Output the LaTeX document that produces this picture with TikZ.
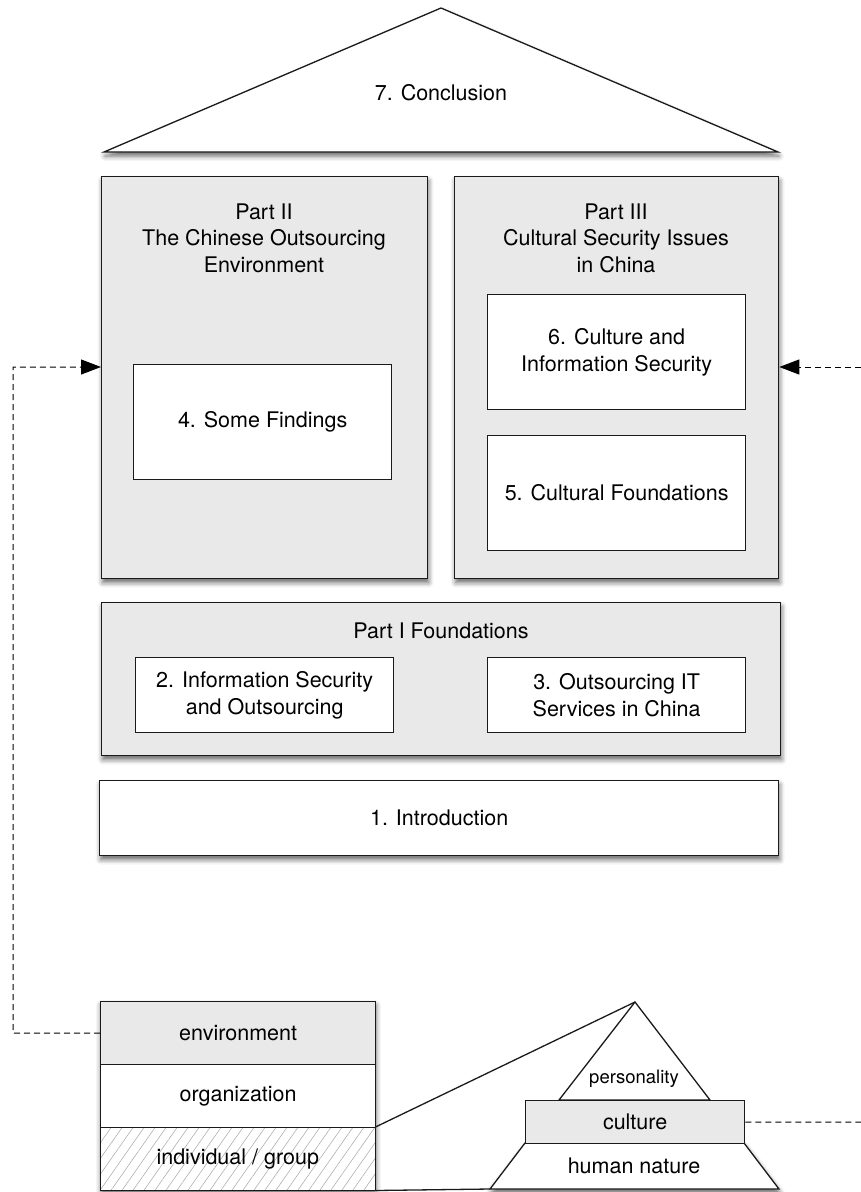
\documentclass[tikz,border=0pt]{standalone}
\usepackage{fontspec}
\setmainfont{TeX Gyre Heros}
\usetikzlibrary{arrows.meta,shadows.blur,patterns.meta,calc}
\definecolor{panel}{HTML}{E9E9E9}
\definecolor{edge}{HTML}{1A1A1A}
\tikzset{
  every node/.style={font=\fontsize{21.5}{26.5}\selectfont, align=center},
  soft/.style={blur shadow={shadow xshift=1pt, shadow yshift=-4pt,
      shadow blur radius=5pt, shadow opacity=60}},
  frame/.style={draw=edge, line width=1.3pt, rectangle, inner sep=0pt,
      anchor=north west},
  panelbox/.style={frame, fill=panel, soft},
  chapbox/.style={frame, fill=white},
  outline/.style={draw=edge, line width=1.3pt, line join=miter},
  conn/.style={draw=black, line width=1pt, dash pattern=on 6pt off 4pt},
  tip/.style={-{Triangle[length=20pt,width=15pt]}},
  small/.style={font=\fontsize{18.5}{22}\selectfont},
}
\begin{document}
\begin{tikzpicture}[x=1pt,y=-1pt]
\useasboundingbox (0,0) rectangle (861,1192);

% roof
\draw[outline, fill=white, soft] (104,152) -- (441,8) -- (778,152) -- cycle;
\node (c7) at (441,93) {7. Conclusion};

% Part II and Part III
\node[panelbox, minimum width=326pt, minimum height=402pt] (p2) at (101,176) {};
\node[panelbox, minimum width=324pt, minimum height=402pt] (p3) at (454,176) {};
\node (t2) at (264,238) {Part II\\The Chinese Outsourcing\\Environment};
\node (t3) at (616,238) {Part III\\Cultural Security Issues\\in China};
\node[chapbox, minimum width=258pt, minimum height=115pt] (c4) at (133,364) {};
\node at (c4.center) {4. Some Findings};
\node[chapbox, minimum width=258pt, minimum height=115pt] (c6) at (487,294) {};
\node at (c6.center) {6. Culture and\\Information Security};
\node[chapbox, minimum width=258pt, minimum height=115pt] (c5) at (487,435) {};
\node at (c5.center) {5. Cultural Foundations};

% Part I
\node[panelbox, minimum width=679pt, minimum height=153pt] (p1) at (101,602) {};
\node (t1) at (441,631) {Part I Foundations};
\node[chapbox, minimum width=258pt, minimum height=75pt] (c2) at (135,657) {};
\node at (c2.center) {2. Information Security\\and Outsourcing};
\node[chapbox, minimum width=258pt, minimum height=75pt] (c3) at (487,657) {};
\node at (c3.center) {3. Outsourcing IT\\Services in China};

% Introduction
\node[chapbox, soft, minimum width=679pt, minimum height=75pt] (c1) at (99,780) {};
\node at (c1.center) {1. Introduction};

% layer stack
\fill[white, soft] (100,1001) rectangle (375,1190);
\node[chapbox, fill=panel, minimum width=275pt, minimum height=63pt] (env) at (100,1001) {environment};
\node[chapbox, minimum width=275pt, minimum height=63pt] (org) at (100,1064) {organization};
\node[frame, preaction={fill=white},
      pattern={Lines[angle=55,distance=9pt,line width=0.5pt]}, pattern color=black!35,
      minimum width=275pt, minimum height=63pt] (ind) at (100,1127) {};
\node at (ind.center) {individual / group};

% pyramid
\coordinate (apex) at (635,1002);
\coordinate (baseL) at (490,1189);
\draw[outline, fill=white] (559,1100) -- (apex) -- (710,1100) -- cycle;
\node[small] (pers) at (634,1079) {personality};
\draw[outline, fill=white, soft] (525,1143) -- (744,1143) -- (779,1189) -- (baseL) -- cycle;
\node (hum) at (634,1166) {human nature};
\node[frame, fill=panel, minimum width=219pt, minimum height=43pt] (cul) at (525,1100) {culture};

% zoom lines from the stack to the pyramid
\draw[outline] (ind.north east) -- (apex);
\draw[outline] (ind.south east) -- (baseL);

% dashed references
\coordinate (edgeL) at (13,1033);
\coordinate (edgeR1) at (861,1122);
\coordinate (edgeR2) at (861,367);
\draw[conn, tip] (env.west) -- (edgeL) -- (13,367) -- (p2.west |- 0,367);
\draw[conn] (cul.east) -- (edgeR1);
\draw[conn, tip] (edgeR2) -- (p3.east |- 0,367);
\end{tikzpicture}
\end{document}
